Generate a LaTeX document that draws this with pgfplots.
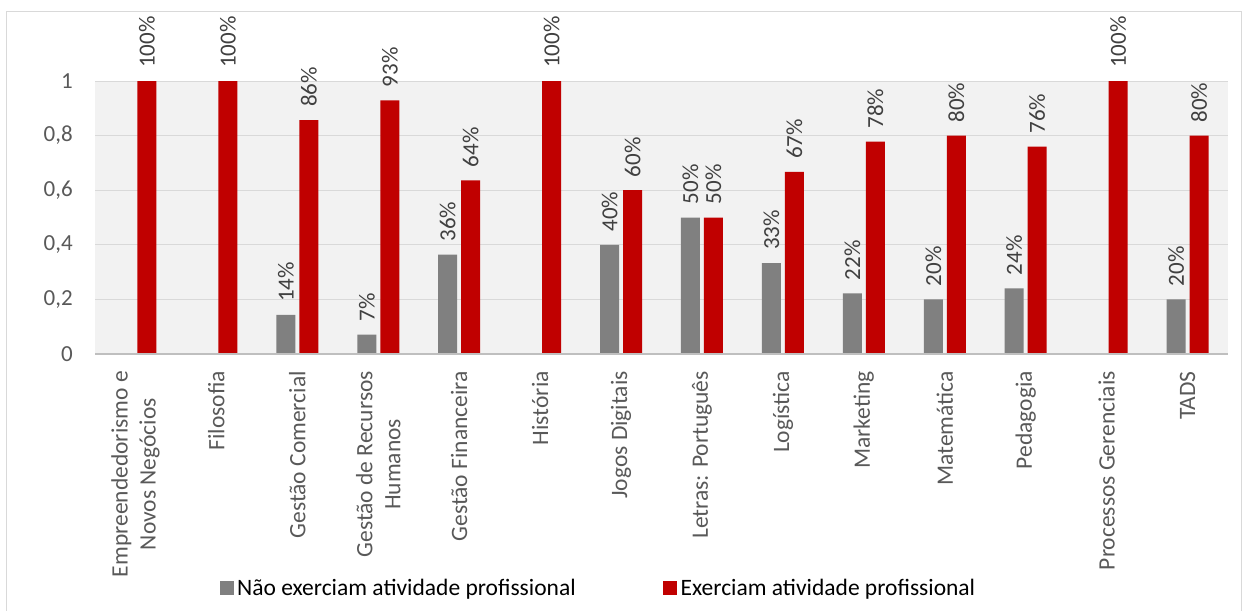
\documentclass[border=0pt]{standalone}
\usepackage{pgfplots}
\pgfplotsset{compat=1.18}
\usepackage{fontspec}
\setmainfont{Carlito}
\definecolor{barred}{HTML}{C00000}
\definecolor{bargray}{HTML}{808080}
\definecolor{txtgray}{HTML}{595959}
\definecolor{lbl}{HTML}{404040}
\definecolor{gridc}{HTML}{D9D9D9}
\definecolor{plotbg}{HTML}{F2F2F2}
\definecolor{framec}{HTML}{D9D9D9}
\definecolor{zeroc}{HTML}{BFBFBF}
\begin{document}
\begin{tikzpicture}
\path[use as bounding box] (0,0) rectangle (1244pt,-610pt);
\draw[framec, line width=1pt] (6.5pt,-12pt) rectangle (1241pt,-620pt);
\begin{axis}[
  at={(95pt,-354pt)}, anchor=south west,
  scale only axis, width=1133pt, height=273pt,
  ymin=0, ymax=1, xmin=-0.5, xmax=13.5,
  clip=false,
  ybar=4pt, bar width=19pt,
  axis background/.style={fill=plotbg},
  axis line style={draw=none},
  ymajorgrids, grid style={gridc, line width=1pt},
  major tick length=0pt,
  ytick={0,0.2,0.4,0.6,0.8,1},
  /pgf/number format/.cd, use comma, fixed, assume math mode=true, /pgfplots/.cd,
  yticklabel style={font=\fontsize{23}{28}\selectfont, text=txtgray, anchor=east, inner sep=0pt, xshift=-22pt},
  xtick={0,...,13},
  xticklabels={{Empreendedorismo e\\Novos Negócios},Filosofia,Gestão Comercial,{Gestão de Recursos\\Humanos},Gestão Financeira,História,Jogos Digitais,Letras: Português,Logística,Marketing,Matemática,Pedagogia,Processos Gerenciais,TADS},
  xticklabel style={font=\fontsize{23.5}{28}\selectfont, text=txtgray, rotate=90, anchor=east, align=center, inner xsep=17pt, inner ysep=0pt},
  every node near coord/.append style={rotate=90, anchor=west, font=\fontsize{23}{28}\selectfont, text=lbl, inner xsep=13pt, inner ysep=0pt},
  legend style={at={(0.445,-0.857)}, anchor=center, legend columns=2, draw=none, fill=none,
    font=\fontsize{23.5}{28}\selectfont, text=black, nodes={inner xsep=3.5pt, inner ysep=1pt},
    /tikz/every even column/.append style={column sep=84pt}},
  legend image code/.code={\fill[#1] (0pt,-7pt) rectangle (14pt,7pt);},
]
\addplot[fill=bargray, draw=none, nodes near coords, point meta=explicit symbolic] coordinates {
 (2,0.1429)[14\%] (3,0.0714)[7\%] (4,0.3636)[36\%] (6,0.4)[40\%] (7,0.5)[50\%]
 (8,0.3333)[33\%] (9,0.2222)[22\%] (10,0.2)[20\%] (11,0.24)[24\%] (13,0.2)[20\%]};
\addplot[fill=barred, draw=none, nodes near coords, point meta=explicit symbolic] coordinates {
 (0,1)[100\%] (1,1)[100\%] (2,0.8571)[86\%] (3,0.9286)[93\%] (4,0.6364)[64\%] (5,1)[100\%]
 (6,0.6)[60\%] (7,0.5)[50\%] (8,0.6667)[67\%] (9,0.7778)[78\%] (10,0.8)[80\%]
 (11,0.76)[76\%] (12,1)[100\%] (13,0.8)[80\%]};
\legend{Não exerciam atividade profissional, Exerciam atividade profissional}
\draw[zeroc, line width=1.5pt] (axis cs:-0.5,0) -- (axis cs:13.5,0);
\end{axis}
\end{tikzpicture}
\end{document}
